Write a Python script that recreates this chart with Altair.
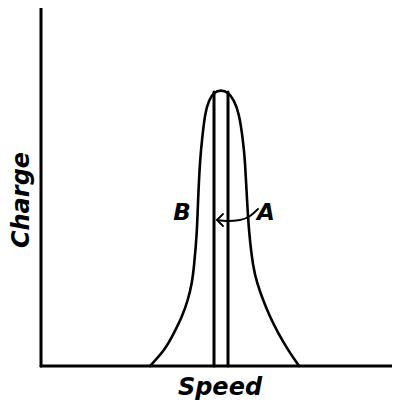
import altair as alt
import pandas as pd

# Curve B (speed, charge)
curve_speed = [109, 124, 133, 141, 147, 151, 153, 156, 157, 159, 161, 164, 168, 173, 180,
               187, 193, 198, 202, 204, 206, 208, 212, 216, 222, 229, 237, 247, 258]
curve_charge = [0, 16, 33, 49, 66, 83, 99, 133, 166, 206, 226, 253, 266, 274, 276,
                274, 266, 253, 226, 206, 166, 133, 99, 83, 66, 49, 33, 16, 0]

# Curve A: two vertical lines
a_speed = [173, 187]
a_top = 274

# Arrow from label A to line
arrow_speed = [217, 209, 199, 187, 176]
arrow_charge = [157, 150, 146, 145, 146]
head_speed = [182, 176, 182]
head_charge = [152, 146, 140]

# Axes
x_axis_speed = [0, 351]
x_axis_charge = [0, 0]
y_axis_speed = [0, 0]
y_axis_charge = [0, 361]

labels = ["B", "A"]
label_speed = [141, 225]
label_charge = [153, 153]

xs = alt.Scale(domain=[-33, 351], nice=False, zero=False)
ys = alt.Scale(domain=[-40, 358], nice=False, zero=False)

def polyline(xv, yv, width, interp="linear"):
    df = pd.DataFrame({"s": xv, "c": yv, "o": list(range(len(xv)))})
    return alt.Chart(df).mark_line(color="black", strokeWidth=width, interpolate=interp,
                                   strokeCap="round", strokeJoin="round").encode(
        x=alt.X("s:Q", scale=xs, axis=None),
        y=alt.Y("c:Q", scale=ys, axis=None),
        order="o:Q",
    )

layers = [
    polyline(x_axis_speed, x_axis_charge, 3),
    polyline(y_axis_speed, y_axis_charge, 3),
    polyline(curve_speed, curve_charge, 2.6, "basis"),
    polyline([a_speed[0], a_speed[0]], [0, a_top], 3),
    polyline([a_speed[1], a_speed[1]], [0, a_top], 3),
    polyline(arrow_speed, arrow_charge, 1.8, "monotone"),
    polyline(head_speed, head_charge, 1.8),
]

lab_df = pd.DataFrame({"s": label_speed, "c": label_charge, "t": labels})
lab = alt.Chart(lab_df).mark_text(fontSize=23, fontStyle="italic", fontWeight="bold",
                                  font="DejaVu Sans", color="black").encode(
    x=alt.X("s:Q", scale=xs, axis=None),
    y=alt.Y("c:Q", scale=ys, axis=None),
    text="t:N",
)

title_df = pd.DataFrame({"s": [179, -19], "c": [-22, 166], "t": ["Speed", "Charge"]})
speed_t = alt.Chart(title_df.iloc[[0]]).mark_text(fontSize=24, fontStyle="italic", fontWeight="bold",
                                                 font="DejaVu Sans", color="black").encode(
    x=alt.X("s:Q", scale=xs, axis=None), y=alt.Y("c:Q", scale=ys, axis=None), text="t:N")
charge_t = alt.Chart(title_df.iloc[[1]]).mark_text(fontSize=24, fontStyle="italic", fontWeight="bold",
                                                  font="DejaVu Sans", color="black", angle=270).encode(
    x=alt.X("s:Q", scale=xs, axis=None), y=alt.Y("c:Q", scale=ys, axis=None), text="t:N")

chart = alt.layer(*layers, lab, speed_t, charge_t).properties(
    width=384, height=398, padding=0, autosize=alt.AutoSizeParams(type="none")
).configure_view(stroke=None)

chart.save("out.html", embed_options={"renderer": "svg", "actions": False})
